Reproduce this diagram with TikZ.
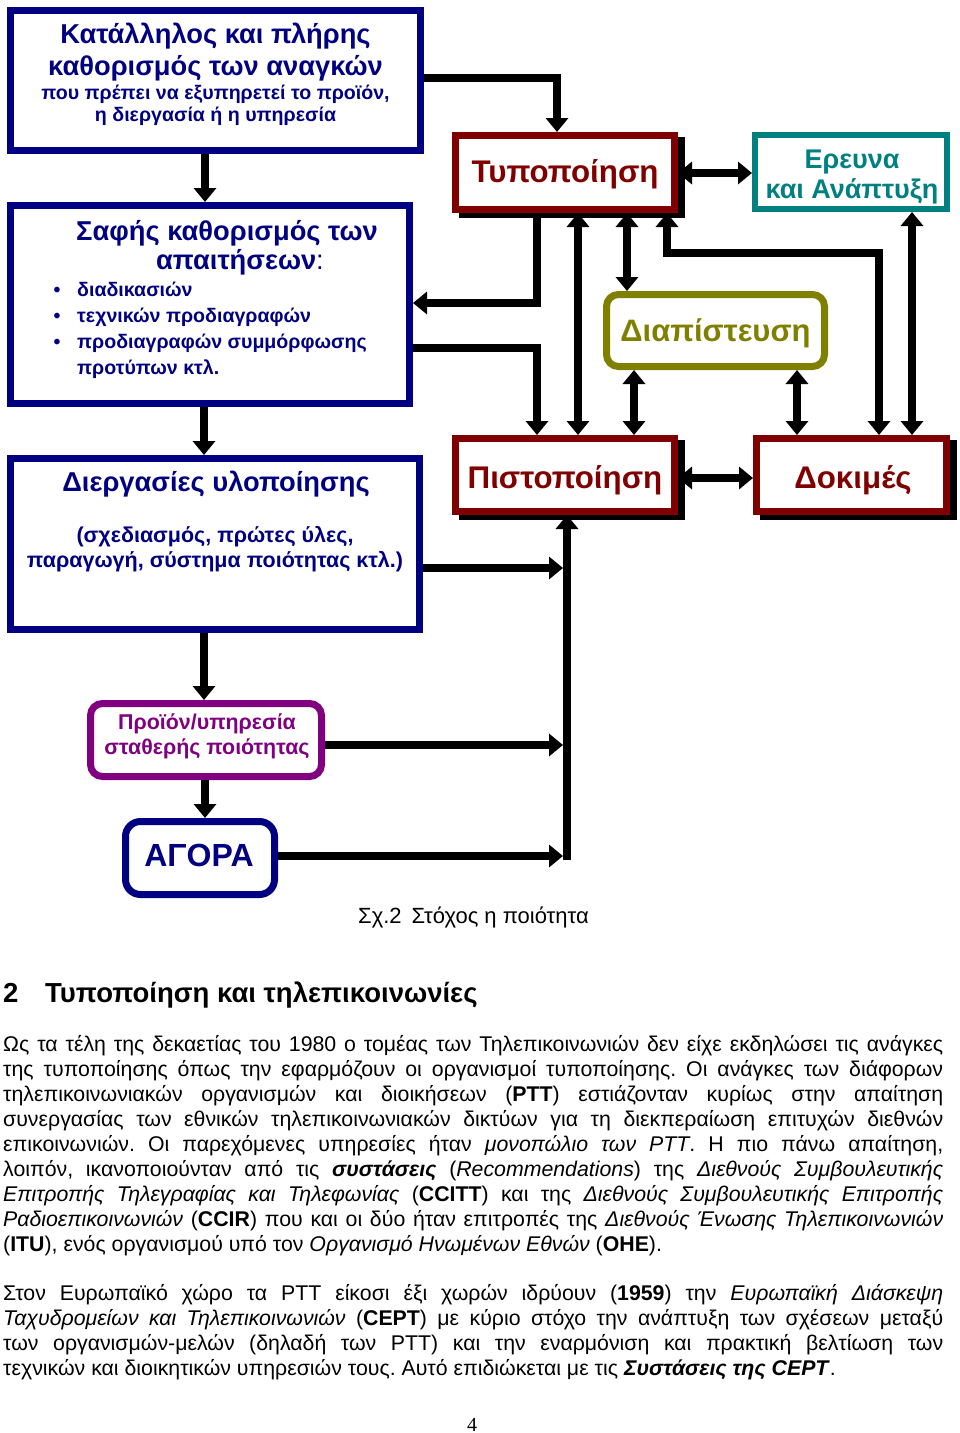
\documentclass[tikz,border=0pt]{standalone}
\usepackage{fontspec}
\setmainfont{Liberation Sans}
\newfontfamily\serifpg{Liberation Serif}
\usetikzlibrary{arrows.meta,backgrounds}
\definecolor{navyc}{RGB}{0,0,128}
\definecolor{dredc}{RGB}{128,0,0}
\definecolor{tealc}{RGB}{0,128,128}
\definecolor{olivec}{RGB}{128,128,0}
\definecolor{purpc}{RGB}{128,0,128}
\newcommand\fsz[1]{\fontsize{#1}{#1}\selectfont}
\frenchspacing
\begin{document}
\begin{tikzpicture}[x=1pt,y=-1pt,
  boxnode/.style={draw,line width=7pt,fill=white,inner sep=0pt},
  arr/.style={line width=8pt,-{Triangle[width=22pt,length=14pt]}},
  darr/.style={line width=8pt,{Triangle[width=22pt,length=14pt]}-{Triangle[width=22pt,length=14pt]}},
  txt/.style={anchor=base,inner sep=0pt},
  body/.style={anchor=base west,inner sep=0pt,font=\fsz{21.3}},
  shadowc/.style={fill=black}
  ]
\useasboundingbox (0,0) rectangle (960,1433);
% ---------- boxes ----------
\node[boxnode,draw=navyc,minimum width=410pt,minimum height=140pt] (b1) at (215.5,80.5) {};
\node[boxnode,draw=navyc,minimum width=399pt,minimum height=198pt] (b2) at (210,304.5) {};
\node[boxnode,draw=navyc,minimum width=409pt,minimum height=171pt] (b3) at (215,544) {};
\node[boxnode,draw=purpc,rounded corners=12pt,minimum width=231pt,minimum height=73pt] (b4) at (206,740) {};
\node[boxnode,draw=navyc,rounded corners=15pt,minimum width=149pt,minimum height=73pt] (b5) at (200,858) {};
\node[boxnode,draw=dredc,minimum width=219pt,minimum height=74pt] (typ) at (565,172.5) {};
\node[boxnode,draw=tealc,line width=6pt,minimum width=192pt,minimum height=74pt] (er) at (851,172) {};
\node[boxnode,draw=olivec,rounded corners=12pt,minimum width=218pt,minimum height=72pt] (dia) at (715.5,330.5) {};
\node[boxnode,draw=dredc,minimum width=219pt,minimum height=73pt] (pis) at (565,475) {};
\node[boxnode,draw=dredc,minimum width=190pt,minimum height=73pt] (dok) at (851.5,475) {};
\begin{pgfonlayer}{background}
  \fill[white] (0,0) rectangle (960,1433);
  \fill[shadowc] ([shift={(7,5)}]typ.north west) rectangle ([shift={(7,5)}]typ.south east);
  \fill[shadowc] ([shift={(7,5)}]pis.north west) rectangle ([shift={(7,5)}]pis.south east);
  \fill[shadowc] ([shift={(7,5)}]dok.north west) rectangle ([shift={(7,5)}]dok.south east);
\end{pgfonlayer}
% ---------- box texts ----------
\begin{scope}[every node/.append style={txt}]
\node[text=navyc,font=\bfseries\fsz{27.3}] (t1a) at (215.5,43.5) {Κατάλληλος και πλήρης};
\node[text=navyc,font=\bfseries\fsz{27.3}] (t1b) at (215.5,75) {καθορισμός των αναγκών};
\node[text=navyc,font=\bfseries\fsz{19.6}] (t1c) at (215.5,99) {που πρέπει να εξυπηρετεί το προϊόν,};
\node[text=navyc,font=\bfseries\fsz{19.6}] (t1d) at (215.5,121) {η διεργασία ή η υπηρεσία};
\node[text=navyc,font=\bfseries\fsz{27.3}] (t2a) at (227,240) {Σαφής καθορισμός των};
\node[text=navyc,font=\bfseries\fsz{27.3}] (t2b) at (240,269) {απαιτήσεων\textmd{:}};
\node[text=navyc,font=\bfseries\fsz{19.6}] (bu1) at (57,296) {•};
\node[text=navyc,font=\bfseries\fsz{19.6}] (bu2) at (57,322) {•};
\node[text=navyc,font=\bfseries\fsz{19.6}] (bu3) at (57,348) {•};
\node[text=navyc,font=\bfseries\fsz{19.6},anchor=base west] (t2c) at (77,296) {διαδικασιών};
\node[text=navyc,font=\bfseries\fsz{19.6},anchor=base west] (t2d) at (77,322) {τεχνικών προδιαγραφών};
\node[text=navyc,font=\bfseries\fsz{19.6},anchor=base west] (t2e) at (77,348) {προδιαγραφών συμμόρφωσης};
\node[text=navyc,font=\bfseries\fsz{19.6},anchor=base west] (t2f) at (77,374) {προτύπων κτλ.};
\node[text=navyc,font=\bfseries\fsz{27.3}] (t3a) at (216,491) {Διεργασίες υλοποίησης};
\node[text=navyc,font=\bfseries\fsz{21.5}] (t3b) at (215,542) {(σχεδιασμός, πρώτες ύλες,};
\node[text=navyc,font=\bfseries\fsz{21.5}] (t3c) at (215,567) {παραγωγή, σύστημα ποιότητας κτλ.)};
\node[text=purpc,font=\bfseries\fsz{21.4}] (t4a) at (207,729) {Προϊόν/υπηρεσία};
\node[text=purpc,font=\bfseries\fsz{21.4}] (t4b) at (207,754) {σταθερής ποιότητας};
\node[text=navyc,font=\bfseries\fsz{32}] (t5) at (199,866) {ΑΓΟΡΑ};
\node[text=dredc,font=\bfseries\fsz{31.3}] (ttyp) at (565,182) {Τυποποίηση};
\node[text=tealc,font=\bfseries\fsz{27}] (ter1) at (852,168) {Ερευνα};
\node[text=tealc,font=\bfseries\fsz{27}] (ter2) at (852,198) {και Ανάπτυξη};
\node[text=olivec,font=\bfseries\fsz{31}] (tdia) at (715.5,341) {Διαπίστευση};
\node[text=dredc,font=\bfseries\fsz{31.3}] (tpis) at (565,488) {Πιστοποίηση};
\node[text=dredc,font=\bfseries\fsz{31.3}] (tdok) at (853,488) {Δοκιμές};
\end{scope}
% ---------- connectors ----------
\coordinate (j1) at (563,568);
\coordinate (j2) at (563,745);
\coordinate (j3) at (563,856);
\coordinate (busend) at (567,860);
\coordinate (dokturn) at (879,253);
\draw[arr] (b1.east |- 0,78) -| (557,0 |- typ.north);
\draw[darr] (typ.east |- 0,173) -- (er.west |- 0,173);
\draw[arr] (537,0 |- typ.south) |- (b2.east |- 0,303);
\draw[arr] (b2.east |- 0,348) -| (537,0 |- pis.north);
\draw[darr] (578,0 |- typ.south) -- (578,0 |- pis.north);
\draw[darr] (627,0 |- typ.south) -- (627,0 |- dia.north);
\draw[darr] (667,0 |- typ.south) |- (dokturn) -- (dokturn |- dok.north);
\draw[darr] (912,0 |- er.south) -- (912,0 |- dok.north);
\draw[darr] (634,0 |- dia.south) -- (634,0 |- pis.north);
\draw[darr] (797,0 |- dia.south) -- (797,0 |- dok.north);
\draw[darr] (pis.east |- 0,478) -- (dok.west |- 0,478);
\draw[arr] (205,0 |- b1.south) -- (205,0 |- b2.north);
\draw[arr] (204,0 |- b2.south) -- (204,0 |- b3.north);
\draw[arr] (204,0 |- b3.south) -- (204,0 |- b4.north);
\draw[arr] (205,0 |- b4.south) -- (205,0 |- b5.north);
\draw[arr] (busend) -- (busend |- pis.south);
\draw[arr] (b3.east |- j1) -- (j1);
\draw[arr] (b4.east |- j2) -- (j2);
\draw[arr] (b5.east |- j3) -- (j3);
% ---------- caption, heading ----------
\node[anchor=base west,inner sep=0pt,font=\fsz{22}] (cap) at (358,923) {Σχ.2\hspace{10pt}Στόχος η ποιότητα};
\node[anchor=base west,inner sep=0pt,font=\bfseries\fsz{27.5}] (hnum) at (3,1002) {2};
\node[anchor=base west,inner sep=0pt,font=\bfseries\fsz{27.5}] (htitle) at (45,1002) {Τυποποίηση και τηλεπικοινωνίες};
% ---------- body text ----------
\node[body] (p1a) at (3,1051) {\makebox[940pt][s]{Ως τα τέλη της δεκαετίας του 1980 ο τομέας των Τηλεπικοινωνιών δεν είχε εκδηλώσει τις ανάγκες}};
\node[body] (p1b) at (3,1076) {\makebox[940pt][s]{της τυποποίησης όπως την εφαρμόζουν οι οργανισμοί τυποποίησης. Οι ανάγκες των διάφορων}};
\node[body] (p1c) at (3,1101) {\makebox[940pt][s]{τηλεπικοινωνιακών οργανισμών και διοικήσεων (\textbf{PTT}) εστιάζονταν κυρίως στην απαίτηση}};
\node[body] (p1d) at (3,1126) {\makebox[940pt][s]{συνεργασίας των εθνικών τηλεπικοινωνιακών δικτύων για τη διεκπεραίωση επιτυχών διεθνών}};
\node[body] (p1e) at (3,1151) {\makebox[940pt][s]{επικοινωνιών. Οι παρεχόμενες υπηρεσίες ήταν \textit{μονοπώλιο των PTT}. Η πιο πάνω απαίτηση,}};
\node[body] (p1f) at (3,1176) {\makebox[940pt][s]{λοιπόν, ικανοποιούνταν από τις \textbf{\textit{συστάσεις}} (\textit{Recommendations}) της \textit{Διεθνούς Συμβουλευτικής}}};
\node[body] (p1g) at (3,1201) {\makebox[940pt][s]{\textit{Επιτροπής Τηλεγραφίας και Τηλεφωνίας} (\textbf{CCITT}) και της \textit{Διεθνούς Συμβουλευτικής Επιτροπής}}};
\node[body] (p1h) at (3,1226) {\makebox[940pt][s]{\textit{Ραδιοεπικοινωνιών} (\textbf{CCIR}) που και οι δύο ήταν επιτροπές της \textit{Διεθνούς Ένωσης Τηλεπικοινωνιών}}};
\node[body] (p1i) at (3,1251) {(\textbf{ITU}), ενός οργανισμού υπό τον \textit{Οργανισμό Ηνωμένων Εθνών} (\textbf{ΟΗΕ}).};
\node[body] (p2a) at (3,1300) {\makebox[940pt][s]{Στον Ευρωπαϊκό χώρο τα PTT είκοσι έξι χωρών ιδρύουν (\textbf{1959}) την \textit{Ευρωπαϊκή Διάσκεψη}}};
\node[body] (p2b) at (3,1325) {\makebox[940pt][s]{\textit{Ταχυδρομείων και Τηλεπικοινωνιών} (\textbf{CEPT}) με κύριο στόχο την ανάπτυξη των σχέσεων μεταξύ}};
\node[body] (p2c) at (3,1350) {\makebox[940pt][s]{των οργανισμών-μελών (δηλαδή των PTT) και την εναρμόνιση και πρακτική βελτίωση των}};
\node[body] (p2d) at (3,1375) {τεχνικών και διοικητικών υπηρεσιών τους. Αυτό επιδιώκεται με τις \textbf{\textit{Συστάσεις της CEPT}}.};
\node[anchor=base,inner sep=0pt,font=\serifpg\fsz{20}] (pg) at (472,1431) {4};
\end{tikzpicture}
\end{document}
